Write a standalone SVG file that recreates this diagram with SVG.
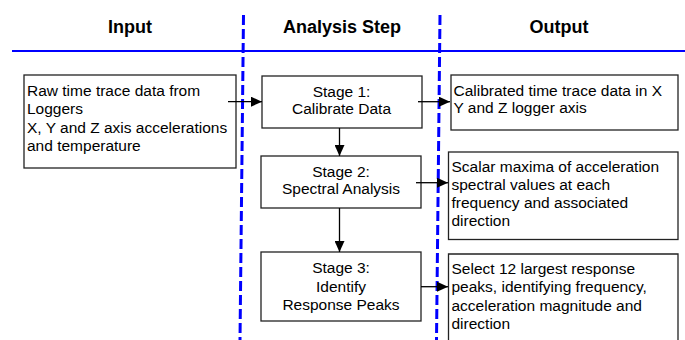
<svg xmlns="http://www.w3.org/2000/svg" width="685" height="340" viewBox="0 0 685 340">
<style>
.hdr{font-family:"Liberation Sans",Arial,sans-serif;font-size:18px;font-weight:bold;fill:#000;text-anchor:middle}
.t{font-family:"Liberation Sans",Arial,sans-serif;font-size:15.5px;fill:#000}
.c{text-anchor:middle}
.box{fill:#fff;stroke:#222;stroke-width:1.3}
.div{stroke:#0000ff;stroke-width:3;stroke-dasharray:10 4;fill:none}
.con{stroke:#000;stroke-width:1.3;fill:none;marker-end:url(#ah)}
</style>
<defs>
<marker id="ah" markerWidth="11" markerHeight="10" refX="11" refY="5" orient="auto" markerUnits="userSpaceOnUse">
<path d="M0,0 L11,5 L0,10 Z" fill="#000"/>
</marker>
</defs>
<rect width="685" height="340" fill="#fff"/>
<g id="headers">
<text class="hdr" x="130" y="33">Input</text>
<text class="hdr" x="342" y="33">Analysis Step</text>
<text class="hdr" x="559" y="33">Output</text>
</g>
<g id="dividers">
<line x1="12" y1="51" x2="685" y2="51" stroke="#0000ff" stroke-width="2"/>
<line class="div" x1="243.5" y1="15" x2="240" y2="340"/>
<line class="div" x1="440" y1="15" x2="436.5" y2="340"/>
</g>
<g id="input">
<rect class="box" x="24" y="75" width="212" height="93"/>
<text class="t" x="27" y="96">Raw time trace data from</text>
<text class="t" x="27" y="114.3">Loggers</text>
<text class="t" x="27" y="132.6">X, Y and Z axis accelerations</text>
<text class="t" x="27" y="151">and temperature</text>
</g>
<g id="stage1">
<rect class="box" x="262" y="76" width="160" height="52"/>
<text class="t c" x="341.5" y="96.7">Stage 1:</text>
<text class="t c" x="341.5" y="114.3">Calibrate Data</text>
</g>
<g id="stage2">
<rect class="box" x="261" y="156" width="160" height="52"/>
<text class="t c" x="341" y="176.7">Stage 2:</text>
<text class="t c" x="341" y="194.3">Spectral Analysis</text>
</g>
<g id="stage3">
<rect class="box" x="261" y="252" width="160" height="69"/>
<text class="t c" x="341" y="273.3">Stage 3:</text>
<text class="t c" x="341" y="291.7">Identify</text>
<text class="t c" x="341" y="310">Response Peaks</text>
</g>
<g id="output1">
<rect class="box" x="451" y="75" width="227" height="55"/>
<text class="t" x="453.5" y="95.7">Calibrated time trace data in X</text>
<text class="t" x="453.5" y="113.3">Y and Z logger axis</text>
</g>
<g id="output2">
<rect class="box" x="448.5" y="152" width="229.5" height="87.5"/>
<text class="t" x="451.5" y="172.3">Scalar maxima of acceleration</text>
<text class="t" x="451.5" y="190.3">spectral values at each</text>
<text class="t" x="451.5" y="208.3">frequency and associated</text>
<text class="t" x="451.5" y="226.3">direction</text>
</g>
<g id="output3">
<path class="box" d="M448.5,345 V254 H678 V345"/>
<text class="t" x="451.5" y="274">Select 12 largest response</text>
<text class="t" x="451.5" y="292.3">peaks, identifying frequency,</text>
<text class="t" x="451.5" y="310.6">acceleration magnitude and</text>
<text class="t" x="451.5" y="329">direction</text>
</g>
<g id="connectors">
<line class="con" x1="228" y1="101.7" x2="262" y2="101.7"/>
<line class="con" x1="418" y1="101.7" x2="450" y2="101.7"/>
<line class="con" x1="339.5" y1="128" x2="339.5" y2="156"/>
<line class="con" x1="416" y1="182.7" x2="448" y2="182.7"/>
<line class="con" x1="339.5" y1="208" x2="339.5" y2="252"/>
<line class="con" x1="421" y1="286.7" x2="448" y2="286.7"/>
</g>
</svg>
